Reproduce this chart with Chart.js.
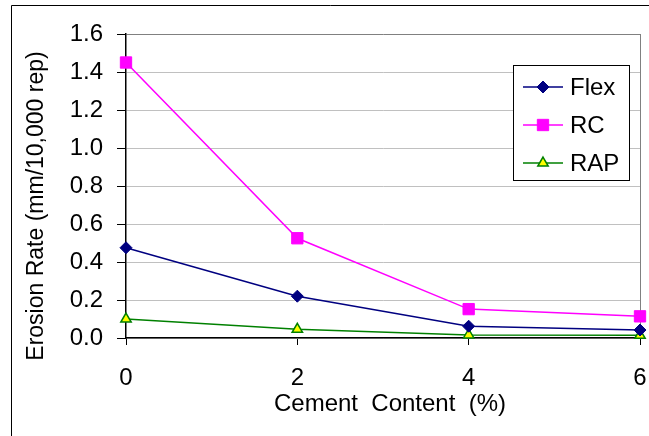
<!DOCTYPE html>
<html>
<head>
<meta charset="utf-8">
<script src="https://cdn.jsdelivr.net/npm/chart.js@4.4.0/dist/chart.umd.min.js"></script>
<style>
  html, body { margin: 0; padding: 0; background: #fff; }
  #wrap { width: 649px; height: 436px; position: relative; }
</style>
</head>
<body>
<div id="wrap"><canvas id="mycanvas" width="649" height="436"></canvas></div>
<script>
// cement content (%)
var cement = [0, 2, 4, 6];
// erosion rate (mm/10,000 rep)
var flex = [0.475, 0.22, 0.062, 0.042];
var rc = [1.45, 0.525, 0.152, 0.114];
var rap = [0.10, 0.046, 0.016, 0.014];
var yTicks = [0, 0.2, 0.4, 0.6, 0.8, 1.0, 1.2, 1.4, 1.6];
var xTitle = 'Cement  Content  (%)';
var yTitle = 'Erosion Rate (mm/10,000 rep)';

function pts(arr) {
    var out = [];
    for (var i in arr) {
        out.push({ x: cement[i], y: arr[i] });
    }
    return out;
}

var FONT = "'Liberation Sans', Arial, sans-serif";

var frame = {
    id: 'frame',
    beforeDraw: function(chart) {
        var c = chart.ctx;
        c.save();
        c.fillStyle = '#fff';
        c.fillRect(0, 0, chart.width, chart.height);
        c.strokeStyle = '#000';
        c.lineWidth = 1;
        c.beginPath();
        c.moveTo(11.5, 436);
        c.lineTo(11.5, 5.5);
        c.lineTo(649, 5.5);
        c.stroke();
        c.restore();
    },
    beforeDatasetsDraw: function(chart) {
        var a = chart.chartArea, c = chart.ctx;
        c.save();
        c.strokeStyle = '#808080';
        c.lineWidth = 1;
        c.beginPath();
        c.moveTo(a.right + 0.5, a.top);
        c.lineTo(a.right + 0.5, a.bottom);
        c.stroke();
        c.restore();
    },
    afterDraw: function(chart) {
        // axis titles, placed like the original (slightly off the plot centre)
        var c = chart.ctx;
        c.save();
        c.fillStyle = '#000';
        c.textAlign = 'center';
        c.textBaseline = 'alphabetic';
        c.font = '24px ' + FONT;
        c.fillText(xTitle, 390, 411);
        c.translate(43, 206);
        c.rotate(-Math.PI / 2);
        c.font = '23px ' + FONT;
        c.fillText(yTitle, 0, 0);
        c.restore();
    }
};

var legendBox = {
    id: 'legendBox',
    afterDatasetsDraw: function(chart) {
        var c = chart.ctx;
        var x0 = 513, y0 = 65, w = 116, h = 115;
        c.save();
        c.fillStyle = '#fff';
        c.fillRect(x0, y0, w, h);
        c.strokeStyle = '#000';
        c.lineWidth = 1;
        c.strokeRect(x0 + 0.5, y0 + 0.5, w, h);
        var rows = [87, 125, 163];
        chart.data.datasets.forEach(function(ds, i) {
            var y = rows[i];
            c.strokeStyle = ds.borderColor;
            c.lineWidth = ds.borderWidth;
            c.beginPath();
            c.moveTo(523, y);
            c.lineTo(563, y);
            c.stroke();
            c.fillStyle = ds.pointBackgroundColor;
            c.strokeStyle = ds.pointBorderColor;
            c.lineWidth = ds.pointBorderWidth;
            Chart.helpers.drawPoint(c, { pointStyle: ds.pointStyle, radius: ds.pointRadius, rotation: 0, borderWidth: ds.pointBorderWidth }, 543, y);
            c.fillStyle = '#000';
            c.font = '24px ' + FONT;
            c.textBaseline = 'middle';
            c.textAlign = 'left';
            c.fillText(ds.label, 570, y + 1);
        });
        c.restore();
    }
};

var chartdata = {
    datasets: [
        {
            label: 'Flex',
            data: pts(flex),
            borderColor: '#000080',
            borderWidth: 1.5,
            pointStyle: 'rectRot',
            pointRadius: 6,
            pointBackgroundColor: '#000080',
            pointBorderColor: '#000080',
            pointBorderWidth: 1,
            tension: 0
        },
        {
            label: 'RC',
            data: pts(rc),
            borderColor: '#FF00FF',
            borderWidth: 1.5,
            pointStyle: 'rect',
            pointRadius: 8,
            pointBackgroundColor: '#FF00FF',
            pointBorderColor: '#FF00FF',
            pointBorderWidth: 1,
            tension: 0
        },
        {
            label: 'RAP',
            data: pts(rap),
            borderColor: '#008000',
            borderWidth: 1.5,
            pointStyle: 'triangle',
            pointRadius: 6,
            pointBackgroundColor: '#FFFF00',
            pointBorderColor: '#008000',
            pointBorderWidth: 1.5,
            tension: 0
        }
    ]
};

var ctx = document.getElementById('mycanvas');
var LineGraph = new Chart(ctx, {
    type: 'line',
    data: chartdata,
    plugins: [frame, legendBox],
    options: {
        responsive: false,
        animation: false,
        clip: false,
        layout: { padding: { left: 0, right: 8, top: 34, bottom: 0 } },
        plugins: { legend: { display: false }, tooltip: { enabled: false } },
        scales: {
            x: {
                type: 'linear',
                min: 0,
                max: 6,
                afterFit: function(s) { s.height = 98; s.paddingLeft = 0; s.paddingRight = 0; },
                afterBuildTicks: function(s) {
                    s.ticks = cement.filter(function(v) { return v % 2 === 0; }).map(function(v) { return { value: v }; });
                },
                ticks: {
                    font: { family: FONT, size: 24 },
                    color: '#000',
                    padding: 19,
                    maxRotation: 0
                },
                grid: {
                    drawOnChartArea: false,
                    drawTicks: true,
                    tickLength: 7,
                    tickColor: '#000'
                },
                border: { color: '#000', width: 1.5 },
                title: { display: false }
            },
            y: {
                min: 0,
                max: 1.6,
                afterFit: function(s) { s.width = 126; s.paddingTop = 0; s.paddingBottom = 0; },
                afterBuildTicks: function(s) {
                    s.ticks = yTicks.map(function(v) { return { value: v }; });
                },
                ticks: {
                    font: { family: FONT, size: 24 },
                    color: '#000',
                    padding: 14,
                    callback: function(v) { return Number(v).toFixed(1); }
                },
                grid: {
                    color: function(c) { return c.tick && c.tick.value >= 1.6 ? '#808080' : '#c0c0c0'; },
                    lineWidth: 1,
                    tickLength: 9,
                    tickColor: '#000'
                },
                border: { color: '#000', width: 1.5 },
                title: { display: false }
            }
        }
    }
});
</script>
</body>
</html>
